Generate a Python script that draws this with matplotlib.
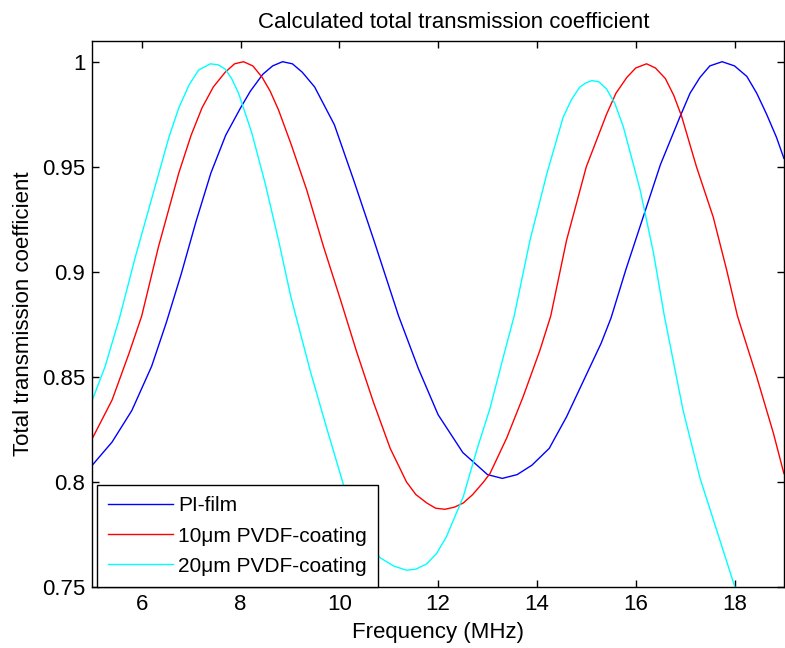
import matplotlib.pyplot as plt

plt.rcParams['font.family'] = ['Liberation Sans', 'DejaVu Sans']

# values
pi_freq = [5.0, 5.4, 5.8, 6.2, 6.5, 6.8, 7.1, 7.4, 7.7, 8.0, 8.2, 8.45, 8.65, 8.85, 9.05,
           9.25, 9.5, 9.9, 10.3, 10.7, 11.2, 11.6, 12.0, 12.5, 13.0, 13.3, 13.6, 13.9,
           14.25, 14.6, 15.0, 15.3, 15.5, 15.8, 16.15, 16.5, 16.9, 17.1, 17.3, 17.5,
           17.75, 18.0, 18.25, 18.45, 18.65, 18.85, 19.0]
pi_t = [0.808, 0.819, 0.834, 0.855, 0.876, 0.899, 0.924, 0.947, 0.965, 0.978, 0.986,
        0.994, 0.998, 1.0, 0.999, 0.995, 0.988, 0.970, 0.943, 0.915, 0.879, 0.854, 0.832,
        0.814, 0.8035, 0.8017, 0.8035, 0.808, 0.816, 0.831, 0.851, 0.866, 0.878, 0.901,
        0.926, 0.951, 0.974, 0.985, 0.9925, 0.998, 1.0, 0.998, 0.993, 0.985, 0.975,
        0.964, 0.954]

pvdf10_freq = [5.0, 5.4, 5.74, 6.0, 6.34, 6.75, 7.0, 7.22, 7.45, 7.69, 7.88, 8.06, 8.25,
               8.44, 8.6, 8.77, 9.02, 9.34, 9.68, 10.02, 10.35, 10.69, 11.03, 11.36, 11.55,
               11.77, 11.95, 12.14, 12.33, 12.51, 12.7, 12.92, 13.05, 13.39, 13.72, 14.06,
               14.28, 14.6, 15.0, 15.41, 15.6, 15.82, 16.0, 16.22, 16.4, 16.6, 16.77, 16.93,
               17.23, 17.57, 17.84, 18.06, 18.45, 18.79, 19.0]
pvdf10_t = [0.8207, 0.839, 0.861, 0.879, 0.912, 0.947, 0.965, 0.978, 0.988, 0.995, 0.999,
            1.0, 0.998, 0.9925, 0.986, 0.977, 0.961, 0.939, 0.912, 0.887, 0.862, 0.838,
            0.816, 0.800, 0.794, 0.790, 0.7875, 0.787, 0.788, 0.790, 0.794, 0.800, 0.804,
            0.821, 0.8405, 0.8626, 0.879, 0.915, 0.950, 0.975, 0.985, 0.9925, 0.997,
            0.999, 0.997, 0.992, 0.984, 0.974, 0.950, 0.926, 0.901, 0.879, 0.850, 0.823,
            0.804]

pvdf20_freq = [5.0, 5.26, 5.55, 5.87, 6.21, 6.55, 6.75, 6.96, 7.15, 7.39, 7.55, 7.69,
               7.82, 7.96, 8.23, 8.5, 8.77, 9.02, 9.41, 9.74, 10.08, 10.45, 10.82, 11.1,
               11.36, 11.55, 11.77, 11.97, 12.17, 12.51, 12.78, 13.05, 13.32, 13.54, 13.86,
               14.2, 14.53, 14.7, 14.87, 15.0, 15.11, 15.25, 15.41, 15.58, 15.75, 16.09,
               16.36, 16.58, 16.96, 17.3, 17.64, 17.98, 18.3]
pvdf20_t = [0.839, 0.855, 0.878, 0.907, 0.9355, 0.964, 0.978, 0.989, 0.996, 0.999, 0.9985,
            0.9965, 0.992, 0.985, 0.966, 0.942, 0.915, 0.888, 0.853, 0.826, 0.799, 0.778,
            0.764, 0.760, 0.758, 0.7585, 0.761, 0.766, 0.774, 0.793, 0.815, 0.835, 0.8595,
            0.879, 0.915, 0.9466, 0.9735, 0.982, 0.988, 0.990, 0.991, 0.9905, 0.987, 0.980,
            0.969, 0.939, 0.909, 0.879, 0.834, 0.802, 0.777, 0.752, 0.730]

labels = ['PI-film', '10\u03bcm PVDF-coating', '20\u03bcm PVDF-coating']
x_ticks = [6, 8, 10, 12, 14, 16, 18]
y_ticks = [0.75, 0.8, 0.85, 0.9, 0.95, 1.0]
y_tick_labels = ['0.75', '0.8', '0.85', '0.9', '0.95', '1']

fig = plt.figure(figsize=(7.85, 6.48), dpi=100)
ax = fig.add_axes([0.1176, 0.0941, 0.881, 0.8431])

ax.plot(pi_freq, pi_t, color='#0000ff', lw=1.0, label=labels[0])
ax.plot(pvdf10_freq, pvdf10_t, color='#ff0000', lw=1.0, label=labels[1])
ax.plot(pvdf20_freq, pvdf20_t, color='#00ffff', lw=1.0, label=labels[2])

ax.set_xlim(5, 19)
ax.set_ylim(0.75, 1.01)
ax.set_xticks(x_ticks)
ax.set_yticks(y_ticks)
ax.set_yticklabels(y_tick_labels)
ax.tick_params(direction='in', top=True, right=True, length=5, width=1,
               labelsize=16, pad=5)
for s in ax.spines.values():
    s.set_linewidth(1.0)

ax.set_title('Calculated total transmission coefficient', fontsize=16, pad=9, x=0.523)
ax.set_xlabel('Frequency (MHz)', fontsize=16, labelpad=5)
ax.set_ylabel('Total transmission coefficient', fontsize=16, labelpad=5.5)

leg = ax.legend(loc='lower left', bbox_to_anchor=(0.0068, 0.0), fontsize=15,
                frameon=True, fancybox=False, framealpha=1, edgecolor='black',
                handlelength=3.1, handletextpad=0.25, labelspacing=0.53,
                borderpad=0.55, borderaxespad=0)
leg.get_frame().set_linewidth(1.0)

fig.savefig('out.png', dpi=100)
